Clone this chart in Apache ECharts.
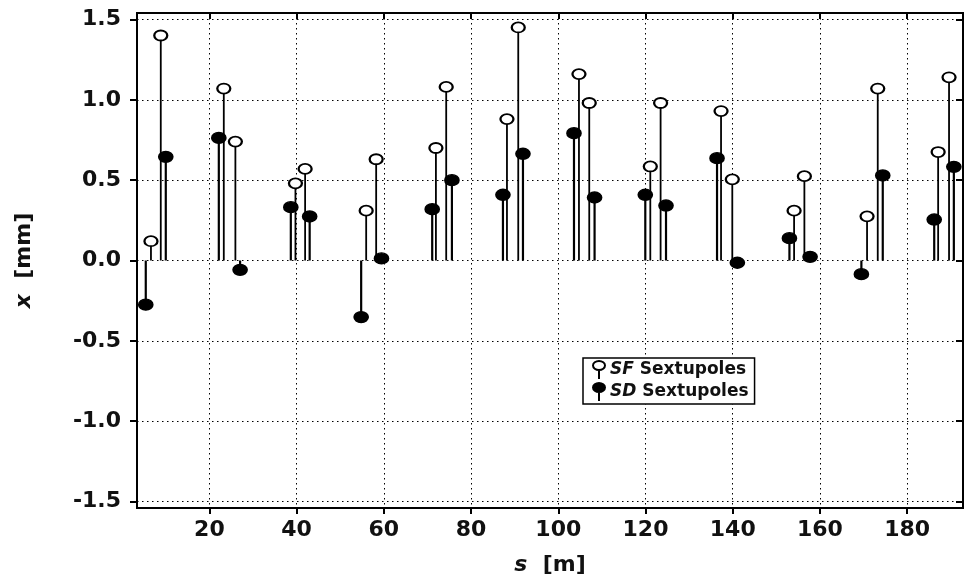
<!DOCTYPE html>
<html>
<head>
<meta charset="utf-8">
<script src="https://cdn.jsdelivr.net/npm/echarts@6/dist/echarts.min.js"></script>
<style>html,body{margin:0;padding:0;background:#fff;}#c{width:974px;height:587px;}</style>
</head>
<body>
<div id="c"></div>
<script>
// SF sextupoles: position s [m] and orbit x [mm]
var sfS = [6.6, 8.85, 23.3, 25.96, 39.73, 41.95, 55.95, 58.24, 71.94, 74.3, 88.23, 90.82, 104.74, 107.1, 121.1, 123.46, 137.32, 139.9, 154.07, 156.43, 170.8, 173.25, 187.1, 189.6];
var sfX = [0.12, 1.40, 1.07, 0.74, 0.48, 0.57, 0.31, 0.63, 0.70, 1.08, 0.88, 1.45, 1.16, 0.98, 0.585, 0.98, 0.93, 0.505, 0.31, 0.525, 0.275, 1.07, 0.675, 1.14];
// SD sextupoles
var sdS = [5.41, 10.0, 22.16, 27.04, 38.67, 42.99, 54.8, 59.46, 71.09, 75.61, 87.31, 91.9, 103.6, 108.32, 119.95, 124.7, 136.4, 141.06, 153.0, 157.74, 169.5, 174.4, 186.2, 190.7];
var sdX = [-0.275, 0.645, 0.763, -0.058, 0.332, 0.274, -0.352, 0.013, 0.319, 0.50, 0.409, 0.664, 0.792, 0.392, 0.409, 0.342, 0.637, -0.014, 0.139, 0.023, -0.085, 0.529, 0.255, 0.583];
var xTicks = [20, 40, 60, 80, 100, 120, 140, 160, 180];
var yTicks = [-1.5, -1.0, -0.5, 0.0, 0.5, 1.0, 1.5];
var sfName = 'SF Sextupoles', sdName = 'SD Sextupoles';

function pairs(a, b) { return a.map(function (v, i) { return [v, b[i]]; }); }
var sfData = pairs(sfS, sfX), sdData = pairs(sdS, sdX);

var FONT = 'DejaVu Sans';
function isTick(list, v) { return list.some(function (t) { return Math.abs(t - v) < 1e-6; }); }

function stemRender(width) {
  return function (params, api) {
    var p0 = api.coord([api.value(0), 0]);
    var p1 = api.coord([api.value(0), api.value(1)]);
    return { type: 'line', shape: { x1: p0[0], y1: p0[1], x2: p1[0], y2: p1[1] },
      style: { stroke: '#000', lineWidth: width } };
  };
}

var stemIcon = 'path://M0,4.5 A6,4.5 0 1,1 12,4.5 A6,4.5 0 1,1 0,4.5 Z M6,9 L6,18';

var xmin = 3.4, xmax = 192.8, ymin = -1.54, ymax = 1.54;
var chart = echarts.init(document.getElementById('c'), null, { renderer: 'canvas' });
var axisCommonX = { type: 'value', min: xmin, max: xmax, splitNumber: 9 };
var axisCommonY = { type: 'value', min: ymin, max: ymax, splitNumber: 6 };
var labelStyle = { fontFamily: FONT, fontSize: 22, fontWeight: 'bold', color: '#111' };
var gridLine = { show: true, lineStyle: { type: [1.5, 3.5], color: '#000', width: 1 } };
chart.setOption({
  animation: false,
  backgroundColor: '#fff',
  grid: { left: 137, top: 13, right: 11, bottom: 79, show: true, borderColor: '#000', borderWidth: 2, containLabel: false },
  xAxis: [
    Object.assign({}, axisCommonX, {
      position: 'bottom',
      name: '{i|s}  [m]', nameLocation: 'middle', nameGap: 46,
      nameTextStyle: Object.assign({}, labelStyle, { rich: { i: Object.assign({}, labelStyle, { fontStyle: 'italic' }) } }),
      axisLine: { show: true, onZero: false, lineStyle: { color: '#000', width: 2 } },
      axisTick: { show: true, inside: false, length: 6, lineStyle: { color: '#000', width: 2 }, customValues: xTicks },
      axisLabel: Object.assign({}, labelStyle, { margin: 11, customValues: xTicks,
        formatter: function (v) { return isTick(xTicks, v) ? String(Math.round(v)) : ''; } }),
      splitLine: gridLine
    }),
    Object.assign({}, axisCommonX, {
      position: 'top',
      axisLine: { show: true, onZero: false, lineStyle: { color: '#000', width: 2 } },
      axisTick: { show: true, inside: true, length: 6, lineStyle: { color: '#000', width: 2 }, customValues: xTicks },
      axisLabel: { show: false },
      splitLine: { show: false }
    })
  ],
  yAxis: [
    Object.assign({}, axisCommonY, {
      position: 'left',
      name: '{i|x}  [mm]', nameLocation: 'middle', nameGap: 102, nameRotate: 90,
      nameTextStyle: Object.assign({}, labelStyle, { rich: { i: Object.assign({}, labelStyle, { fontStyle: 'italic' }) } }),
      axisLine: { show: true, onZero: false, lineStyle: { color: '#000', width: 2 } },
      axisTick: { show: true, inside: false, length: 7, lineStyle: { color: '#000', width: 2 }, customValues: yTicks },
      axisLabel: Object.assign({}, labelStyle, { margin: 16, customValues: yTicks,
        formatter: function (v) { return isTick(yTicks, v) ? v.toFixed(1) : ''; } }),
      splitLine: gridLine
    }),
    Object.assign({}, axisCommonY, {
      position: 'right',
      axisLine: { show: true, onZero: false, lineStyle: { color: '#000', width: 2 } },
      axisTick: { show: true, inside: true, length: 7, lineStyle: { color: '#000', width: 2 }, customValues: yTicks },
      axisLabel: { show: false },
      splitLine: { show: false }
    })
  ],
  legend: {
    data: [{ name: sfName, icon: stemIcon }, { name: sdName, icon: stemIcon }],
    orient: 'vertical', left: 583, top: 358,
    backgroundColor: '#fff', borderColor: '#000', borderWidth: 1.5,
    padding: [2, 6, 2, 9], itemGap: 2, itemWidth: 12, itemHeight: 18,
    formatter: function (n) { return n === sfName ? '{i|SF} Sextupoles' : '{i|SD} Sextupoles'; },
    textStyle: { fontFamily: FONT, fontSize: 17, fontWeight: 'bold', color: '#111',
      rich: { i: { fontStyle: 'italic', fontWeight: 'bold', fontFamily: FONT, fontSize: 17, color: '#111' } } }
  },
  series: [
    { name: 'sf-stem', type: 'custom', renderItem: stemRender(1.8), data: sfData, encode: { x: 0, y: 1 }, z: 2, silent: true },
    { name: 'sd-stem', type: 'custom', renderItem: stemRender(2.2), data: sdData, encode: { x: 0, y: 1 }, z: 2, silent: true },
    { name: sfName, type: 'scatter', data: sfData, symbol: 'circle', symbolSize: [13, 10],
      itemStyle: { color: '#fff', borderColor: '#000', borderWidth: 2, opacity: 1 }, z: 4 },
    { name: sdName, type: 'scatter', data: sdData, symbol: 'circle', symbolSize: [14, 11],
      itemStyle: { color: '#000', borderColor: '#000', borderWidth: 1.5, opacity: 1 }, z: 5 }
  ]
});
</script>
</body>
</html>
